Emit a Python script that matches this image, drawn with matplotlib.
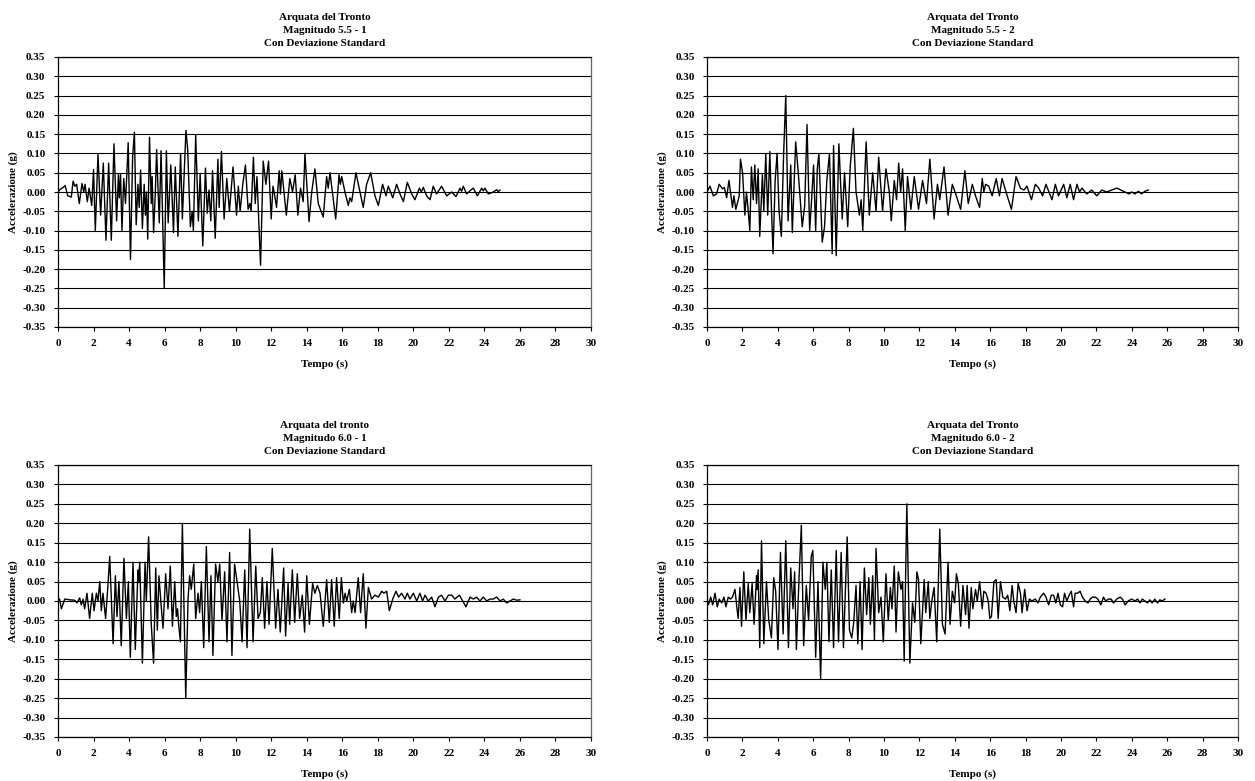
import matplotlib
matplotlib.use("Agg")
import matplotlib.pyplot as plt
from matplotlib.ticker import MultipleLocator, FormatStrFormatter

plt.rcParams['font.family'] = ['Liberation Serif', 'DejaVu Serif']
plt.rcParams['font.weight'] = 'bold'

titles = [
    "Arquata del Tronto\nMagnitudo 5.5 - 1\nCon Deviazione Standard",
    "Arquata del Tronto\nMagnitudo 5.5 - 2\nCon Deviazione Standard",
    "Arquata del tronto\nMagnitudo 6.0 - 1\nCon Deviazione Standard",
    "Arquata del Tronto\nMagnitudo 6.0 - 2\nCon Deviazione Standard",
]
x_label = "Tempo (s)"
y_label = "Accelerazione (g)"

# ---- Panel 1: Magnitudo 5.5 - 1 ----
t1 = [0, 0.15, 0.3, 0.4, 0.55, 0.75, 0.85, 0.95, 1.05, 1.2, 1.35, 1.45, 1.52, 1.65, 1.75, 1.9,
      2.0, 2.1, 2.25, 2.4, 2.55, 2.7, 2.85, 3.0, 3.15, 3.3, 3.4, 3.45, 3.52, 3.6, 3.7, 3.8, 3.95,
      4.08, 4.2, 4.3, 4.4, 4.5, 4.57, 4.65, 4.75, 4.85, 4.92, 4.98, 5.05, 5.15, 5.25, 5.3, 5.38,
      5.48, 5.55, 5.7, 5.8, 5.98, 6.1, 6.2, 6.35, 6.5, 6.6, 6.75, 6.9, 7.0, 7.2, 7.3, 7.45, 7.55,
      7.62, 7.75, 7.9, 8.0, 8.15, 8.3, 8.4, 8.5, 8.6, 8.7, 8.85, 9.0, 9.07, 9.2, 9.35, 9.5, 9.65,
      9.85, 10.05, 10.15, 10.25, 10.4, 10.55, 10.7, 10.8, 10.87, 11.0, 11.1, 11.2, 11.4, 11.55,
      11.7, 11.85, 12.0, 12.1, 12.2, 12.3, 12.45, 12.52, 12.6, 12.85, 13.05, 13.2, 13.35, 13.5,
      13.65, 13.8, 13.9, 14.13, 14.28, 14.46, 14.65, 14.93, 15.12, 15.21, 15.31, 15.63, 15.82,
      15.89, 15.97, 16.15, 16.34, 16.43, 16.53, 16.77, 17.0, 17.18, 17.37, 17.6, 17.84, 18.03,
      18.27, 18.46, 18.59, 18.84, 19.06, 19.25, 19.44, 19.66, 19.91, 20.09, 20.34, 20.45, 20.56,
      20.75, 20.94, 21.12, 21.31, 21.59, 21.88, 22.16, 22.4, 22.63, 22.72, 22.81, 23.0, 23.23,
      23.38, 23.6, 23.85, 23.94, 24.03, 24.22, 24.5, 24.69, 24.78, 24.88]
a1 = [0.0, 0.008, 0.012, 0.017, -0.01, -0.013, 0.028, 0.015, 0.02, -0.03, 0.022, 0.0, 0.02, -0.025, 0.01, -0.035,
      0.058, -0.10, 0.098, -0.06, 0.075, -0.125, 0.075, -0.125, 0.125, -0.075, 0.045, -0.015, 0.045, -0.10, 0.035, -0.03, 0.128,
      -0.175, 0.09, 0.155, -0.085, 0.02, -0.04, 0.057, -0.095, 0.02, -0.06, 0.0, -0.122, 0.142, -0.03, 0.04, -0.105,
      0.0, 0.11, -0.08, 0.107, -0.25, 0.107, -0.08, 0.07, -0.105, 0.065, -0.115, 0.1, -0.07, 0.16, 0.11, -0.09, -0.05,
      -0.10, 0.148, -0.075, 0.047, -0.14, 0.062, -0.055, 0.005, -0.075, 0.055, -0.12, 0.085, -0.04, 0.105, -0.07, 0.035, -0.05,
      0.065, -0.06, 0.015, -0.05, 0.02, 0.07, -0.045, -0.03, -0.05, 0.09, -0.03, 0.04, -0.19, 0.08,
      0.02, 0.08, -0.07, 0.015, -0.01, -0.04, 0.055, -0.005, 0.055, -0.06, 0.035, 0.0, 0.045, -0.06,
      0.01, -0.025, 0.10, -0.077, 0.0, 0.06, -0.03, -0.065, 0.04, 0.01, 0.05, -0.07, 0.045,
      0.02, 0.04, 0.0, -0.035, -0.015, -0.025, 0.05, 0.0, -0.04, 0.02, 0.05, -0.01, -0.035,
      0.02, -0.01, 0.015, -0.015, 0.02, -0.005, -0.025, 0.025, -0.005, -0.02, 0.01, 0.0, 0.012,
      -0.01, -0.02, 0.015, -0.005, 0.015, -0.01, 0.0, -0.012, 0.01, 0.002, 0.015, -0.005, 0.005,
      0.01, -0.01, 0.01, 0.003, 0.01, -0.005, 0.0, 0.006, 0.001, 0.005]

# ---- Panel 2: Magnitudo 5.5 - 2 ----
t2 = [0.0, 0.17, 0.36, 0.54, 0.69, 0.88, 0.98, 1.11, 1.24, 1.44, 1.52, 1.63, 1.82, 1.89, 2.01, 2.14,
      2.23, 2.33, 2.42, 2.51, 2.61, 2.70, 2.80, 2.89, 2.98, 3.13, 3.21, 3.32, 3.43, 3.55, 3.64, 3.73,
      3.85, 3.96, 4.07, 4.2, 4.33, 4.45, 4.58, 4.73, 4.82, 5.01, 5.14, 5.27, 5.38, 5.52, 5.65, 5.8,
      5.91, 6.02, 6.14, 6.23, 6.32, 6.42, 6.51, 6.64, 6.77, 6.92, 7.07, 7.15, 7.30, 7.45, 7.64, 7.77,
      7.95, 8.09, 8.27, 8.42, 8.61, 8.71, 8.8, 8.99, 9.17, 9.36, 9.55, 9.7, 9.92, 10.11, 10.30, 10.41,
      10.58, 10.71, 10.83, 10.94, 11.05, 11.2, 11.33, 11.52, 11.71, 11.95, 12.18, 12.4, 12.59, 12.83,
      13.02, 13.15, 13.39, 13.62, 13.86, 14.05, 14.33, 14.57, 14.76, 14.99, 15.17, 15.4, 15.55, 15.64,
      15.74, 15.92, 16.11, 16.34, 16.52, 16.67, 16.96, 17.2, 17.46, 17.71, 17.9, 18.08, 18.33, 18.55,
      18.74, 18.96, 19.15, 19.49, 19.68, 19.86, 20.15, 20.33, 20.52, 20.71, 20.9, 21.05, 21.18, 21.46,
      21.74, 22.02, 22.3, 22.58, 22.87, 23.15, 23.39, 23.62, 23.84, 23.99, 24.18, 24.37, 24.55, 24.74,
      24.93]
a2 = [0.0, 0.015, -0.01, -0.005, 0.02, 0.008, 0.012, -0.015, 0.03, -0.04, -0.01, -0.045, -0.01, 0.085, 0.05, -0.06,
      0.0, -0.05, -0.1, 0.065, -0.02, 0.07, -0.03, 0.06, -0.115, 0.045, -0.05, 0.1, -0.06, 0.105, -0.04, -0.16,
      0.03, 0.1, -0.05, -0.115, 0.1, 0.25, -0.075, 0.07, -0.105, 0.13, 0.06, -0.02, -0.09, -0.035, 0.175, -0.1,
      -0.02, 0.07, -0.1, 0.06, 0.1, -0.02, -0.13, -0.09, 0.03, 0.1, -0.16, 0.12, -0.165, 0.125, -0.07, 0.05,
      -0.09, 0.065, 0.165, 0.0, -0.06, -0.02, -0.1, 0.13, -0.06, 0.05, -0.05, 0.09, -0.05, 0.06, 0.0, -0.075,
      0.03, -0.02, 0.075, 0.0, 0.06, -0.1, 0.04, -0.045, 0.04, -0.045, 0.03, -0.03, 0.085, -0.07,
      0.02, -0.02, 0.065, -0.06, 0.02, -0.005, -0.045, 0.055, -0.03, 0.02, -0.01, -0.04, 0.035, 0.0,
      0.02, 0.015, -0.01, 0.035, -0.01, 0.035, -0.01, -0.045, 0.04, 0.01, 0.005, 0.015, -0.02, 0.02,
      0.01, -0.01, 0.02, -0.02, 0.02, -0.01, 0.02, -0.015, 0.02, -0.02, 0.02, 0.0, 0.01, -0.005,
      0.005, -0.01, 0.005, 0.0, 0.005, 0.01, 0.005, 0.0, -0.005, 0.0, -0.005, 0.002, -0.005, 0.002,
      0.005]

# ---- Panel 3: Magnitudo 6.0 - 1 ----
t3 = [0, 0.09, 0.19, 0.38, 0.66, 0.94, 1.07, 1.22, 1.31, 1.41, 1.5, 1.63, 1.78, 1.93, 2.03, 2.16,
      2.25, 2.35, 2.44, 2.53, 2.68, 2.81, 2.91, 3.1, 3.23, 3.32, 3.43, 3.56, 3.71, 3.85, 3.96, 4.07,
      4.22, 4.35, 4.5, 4.54, 4.6, 4.75, 4.9, 4.97, 5.1, 5.25, 5.38, 5.5, 5.59, 5.68, 5.82, 5.91, 6.06,
      6.19, 6.32, 6.44, 6.57, 6.66, 6.73, 6.79, 6.89, 7.0, 7.19, 7.32, 7.41, 7.5, 7.64, 7.75, 7.88,
      7.97, 8.07, 8.2, 8.35, 8.5, 8.61, 8.72, 8.87, 9.0, 9.1, 9.23, 9.38, 9.51, 9.66, 9.79, 9.94,
      10.08, 10.23, 10.36, 10.51, 10.64, 10.79, 10.98, 11.13, 11.26, 11.39, 11.5, 11.63, 11.76, 11.88,
      12.06, 12.25, 12.38, 12.51, 12.7, 12.81, 12.95, 13.04, 13.19, 13.32, 13.47, 13.6, 13.75, 13.88,
      14.0, 14.15, 14.33, 14.46, 14.6, 14.75, 14.93, 15.12, 15.27, 15.4, 15.55, 15.68, 15.83, 15.95,
      16.06, 16.16, 16.25, 16.4, 16.53, 16.62, 16.72, 16.9, 17.03, 17.18, 17.33, 17.47, 17.65, 17.84,
      18.03, 18.22, 18.35, 18.5, 18.65, 18.84, 19.02, 19.17, 19.34, 19.53, 19.66, 19.81, 20.0, 20.19,
      20.37, 20.52, 20.66, 20.84, 21.03, 21.22, 21.41, 21.59, 21.78, 21.97, 22.16, 22.34, 22.59, 22.78,
      22.96, 23.19, 23.38, 23.56, 23.75, 23.94, 24.13, 24.31, 24.5, 24.69, 24.88, 25.06, 25.25, 25.44,
      25.63, 25.82, 26.0]
a3 = [0.0, 0.005, -0.02, 0.005, 0.003, 0.002, -0.005, 0.008, -0.01, 0.005, -0.02, 0.02, -0.045, 0.02, -0.025, 0.02,
      0.0, 0.05, -0.025, 0.02, -0.045, 0.04, 0.115, -0.11, 0.065, -0.04, 0.05, -0.115, 0.11, -0.045, 0.05, -0.145,
      0.1, -0.125, 0.08, 0.05, 0.1, -0.16, 0.1, 0.0, 0.165, -0.06, -0.16, 0.085, -0.075, 0.065, -0.02, -0.07, 0.07,
      -0.02, 0.09, -0.065, 0.05, -0.04, -0.02, -0.06, -0.105, 0.2, -0.25, 0.005, 0.065, 0.03, 0.095, -0.045, 0.02,
      -0.03, 0.05, -0.12, 0.14, -0.105, 0.065, -0.14, 0.095, 0.05, 0.095, -0.05, 0.075, -0.105, 0.125, -0.14, 0.095,
      0.05, 0.0, -0.105, 0.08, -0.12, 0.185, -0.105, 0.09, -0.045, -0.03, 0.06, -0.07, 0.05, -0.06,
      0.135, -0.07, 0.03, -0.08, 0.085, -0.09, 0.045, -0.06, 0.08, -0.055, 0.07, -0.045, 0.015, -0.08,
      0.065, -0.06, 0.045, 0.02, 0.04, 0.02, -0.065, 0.055, -0.055, 0.055, -0.065, 0.06, -0.045, 0.06,
      -0.005, 0.02, 0.0, 0.03, -0.03, 0.0, -0.03, 0.06, -0.03, 0.07, -0.07, 0.035, 0.005, 0.015,
      0.01, 0.025, 0.02, 0.025, -0.025, 0.005, 0.025, 0.01, 0.02, 0.005, 0.02, 0.005, 0.02, 0.0,
      0.02, 0.0, 0.015, 0.0, 0.01, -0.015, 0.01, 0.015, 0.0, 0.015, 0.015, 0.005, 0.015, 0.0,
      -0.015, 0.01, 0.005, 0.01, 0.0, 0.01, 0.0, 0.005, 0.005, 0.01, 0.0, 0.005, -0.005, 0.0,
      0.005, 0.002, 0.003]

# ---- Panel 4: Magnitudo 6.0 - 2 ----
t4 = [0, 0.08, 0.21, 0.32, 0.45, 0.58, 0.69, 0.83, 0.96, 1.07, 1.2, 1.33, 1.44, 1.58, 1.67, 1.76,
      1.86, 1.95, 2.08, 2.2, 2.33, 2.42, 2.55, 2.66, 2.8, 2.83, 2.89, 2.98, 3.08, 3.21, 3.36, 3.49,
      3.64, 3.77, 3.88, 4.01, 4.15, 4.3, 4.45, 4.6, 4.73, 4.86, 4.95, 5.05, 5.2, 5.33, 5.46, 5.61,
      5.74, 5.89, 5.98, 6.14, 6.27, 6.42, 6.55, 6.68, 6.77, 6.89, 7.02, 7.15, 7.3, 7.43, 7.58, 7.71,
      7.92, 8.05, 8.18, 8.29, 8.42, 8.52, 8.65, 8.76, 8.89, 9.02, 9.14, 9.23, 9.36, 9.46, 9.55, 9.7,
      9.83, 9.96, 10.11, 10.24, 10.36, 10.45, 10.58, 10.68, 10.81, 10.96, 11.05, 11.14, 11.29, 11.46,
      11.61, 11.74, 11.86, 11.95, 12.08, 12.27, 12.36, 12.5, 12.59, 12.7, 12.83, 12.98, 13.15, 13.3,
      13.45, 13.62, 13.73, 13.86, 13.99, 14.09, 14.2, 14.33, 14.46, 14.61, 14.7, 14.8, 14.93, 15.02,
      15.17, 15.27, 15.4, 15.55, 15.64, 15.77, 15.89, 15.98, 16.07, 16.21, 16.34, 16.45, 16.58, 16.71,
      16.86, 16.99, 17.11, 17.24, 17.33, 17.46, 17.58, 17.71, 17.8, 17.95, 18.08, 18.21, 18.36, 18.55,
      18.7, 18.83, 19.02, 19.15, 19.3, 19.45, 19.58, 19.71, 19.83, 19.96, 20.09, 20.2, 20.33, 20.46,
      20.58, 20.71, 20.8, 20.93, 21.08, 21.21, 21.37, 21.52, 21.65, 21.78, 21.93, 22.08, 22.25, 22.4,
      22.53, 22.68, 22.83, 22.96, 23.15, 23.34, 23.47, 23.62, 23.8, 23.99, 24.18, 24.33, 24.46, 24.59,
      24.74, 24.89, 25.02, 25.15, 25.3, 25.45, 25.59, 25.72, 25.87]
a4 = [0.005, -0.01, 0.01, -0.01, 0.02, -0.015, 0.005, -0.005, 0.01, -0.015, 0.01, 0.005, 0.01, 0.03, -0.01, -0.045,
      0.035, -0.065, 0.075, -0.05, 0.045, -0.03, 0.045, -0.06, 0.065, 0.03, 0.08, -0.12, 0.155, -0.11, 0.05, -0.05,
      -0.095, 0.06, 0.025, -0.125, 0.125, -0.085, 0.155, -0.12, 0.085, -0.02, 0.075, -0.125, 0.06, 0.195, -0.115, 0.04,
      -0.05, 0.115, 0.13, -0.145, 0.05, -0.2, 0.1, 0.03, 0.1, -0.105, 0.08, -0.12, 0.13, -0.105, 0.125, -0.12,
      0.165, -0.075, -0.095, -0.055, 0.04, -0.11, 0.05, -0.125, 0.085, -0.035, 0.06, -0.06, 0.065, -0.1, 0.135, -0.03,
      0.01, -0.105, 0.07, -0.05, 0.035, -0.02, 0.09, -0.08, 0.075, 0.03, 0.05, -0.155, 0.25, -0.16,
      -0.005, -0.055, 0.075, 0.055, -0.11, 0.055, -0.03, 0.05, -0.045, 0.0, 0.035, -0.105, 0.185, -0.06,
      -0.085, 0.1, -0.06, 0.025, -0.005, 0.07, 0.045, -0.065, 0.04, -0.035, 0.04, -0.07, 0.035, -0.02,
      0.03, 0.0, 0.05, -0.02, 0.025, 0.02, 0.0, -0.045, -0.04, 0.05, 0.055, -0.045, 0.05, 0.01,
      0.005, 0.015, -0.025, 0.04, 0.0, -0.03, 0.045, 0.02, -0.03, 0.03, -0.025, 0.005, 0.0, 0.005,
      -0.005, 0.01, 0.02, 0.01, -0.01, 0.015, 0.015, -0.005, 0.02, -0.01, -0.015, 0.02, 0.0, 0.015,
      0.025, -0.015, 0.02, 0.02, 0.025, 0.01, 0.0, -0.005, 0.005, 0.01, 0.01, 0.005, -0.01, 0.01,
      0.0, 0.005, 0.005, -0.005, 0.005, 0.01, 0.005, -0.01, 0.0, 0.005, 0.0, 0.005, -0.005, 0.005,
      0.0, -0.005, 0.003, -0.005, 0.005, -0.005, 0.003, 0.0, 0.005]

series = [(t1, a1), (t2, a2), (t3, a3), (t4, a4)]

fig = plt.figure(figsize=(12.55, 7.81), dpi=100)
W, H = 1255, 781
# axes rectangles in pixels: (left, top, right, bottom)
rects = [(58, 57, 591, 327), (707, 57, 1238, 327), (58, 465, 591, 737), (707, 465, 1238, 737)]

FS = 8
for (l, t, r, b), title, (tx, ay) in zip(rects, titles, series):
    ax = fig.add_axes([l / W, 1 - b / H, (r - l) / W, (b - t) / H])
    ax.plot(tx, ay, color='black', lw=1.0)
    ax.set_xlim(0, 30)
    ax.set_ylim(-0.35, 0.35)
    ax.xaxis.set_major_locator(MultipleLocator(2))
    ax.yaxis.set_major_locator(MultipleLocator(0.05))
    ax.yaxis.set_major_formatter(FormatStrFormatter('%.2f'))
    ax.grid(axis='y', color='black', lw=0.8)
    ax.set_axisbelow(True)
    ax.tick_params(direction='out', length=3, width=0.8, labelsize=FS, pad=6)
    for lab in ax.get_xticklabels() + ax.get_yticklabels():
        lab.set_fontweight('bold')
    for s in ['left', 'bottom', 'top']:
        ax.spines[s].set_color('black')
        ax.spines[s].set_linewidth(0.9)
    ax.spines['right'].set_color('#666666')
    ax.spines['right'].set_linewidth(0.9)
    ax.set_xlabel(x_label, fontsize=FS, fontweight='bold', labelpad=8)
    ax.set_ylabel(y_label, fontsize=FS, fontweight='bold', labelpad=3)
    ax.set_title(title, fontsize=FS, fontweight='bold', linespacing=1.55, pad=8)

fig.savefig("out.png", dpi=100, facecolor='white')
